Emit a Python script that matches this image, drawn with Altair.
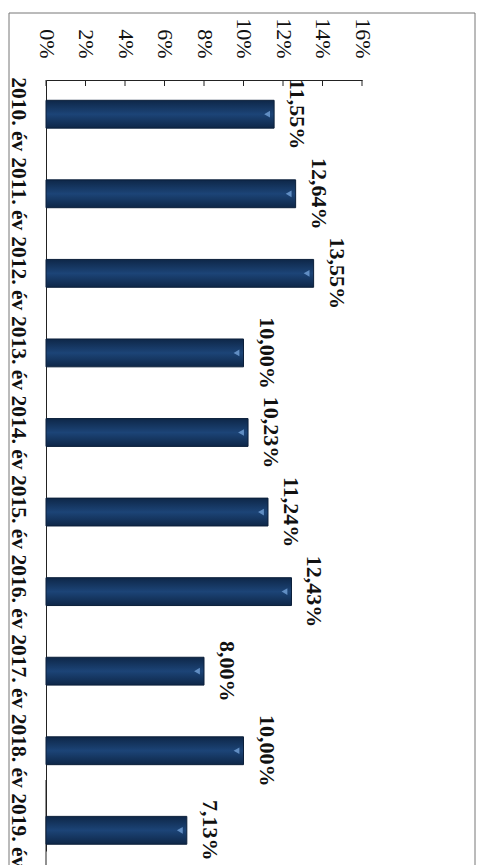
import altair as alt
import pandas as pd

years = ["2010. év", "2011. év", "2012. év", "2013. év", "2014. év",
         "2015. év", "2016. év", "2017. év", "2018. év", "2019. év"]
values = [11.55, 12.64, 13.55, 10.00, 10.23, 11.24, 12.43, 8.00, 10.00, 7.13]
value_labels = ["11,55%", "12,64%", "13,55%", "10,00%", "10,23%",
                "11,24%", "12,43%", "8,00%", "10,00%", "7,13%"]
tick_values = [0, 2, 4, 6, 8, 10, 12, 14, 16]

df = pd.DataFrame({"year": years, "value": values, "label": value_labels})
ticks_df = pd.DataFrame({"t": tick_values})

FONT = "Liberation Serif"

x_scale = alt.Scale(domain=[0, 16], nice=False)
y_scale = alt.Scale(paddingInner=0.65, paddingOuter=0.17, align=0.75)

x_axis = alt.Axis(orient="top", values=tick_values, labelExpr="datum.value + '%'",
                  labelAngle=90, labelAlign="right", labelBaseline="middle",
                  labelPadding=22, ticks=False, tickSize=0, grid=False,
                  domainColor="#222", labelFont=FONT, labelFontSize=22,
                  labelColor="#111", title=None, labelFlush=False,
                  labelOverlap=False, labelBound=False)
y_axis = alt.Axis(orient="left", labelAngle=90, labelAlign="center",
                  labelBaseline="top", labelPadding=18, ticks=False,
                  tickSize=0, domainColor="#222", labelFont=FONT,
                  labelFontSize=21.5, labelFontWeight="bold", labelColor="#111",
                  title=None, labelOverlap=False, labelBound=False)


def xe(field):
    return alt.X(field, scale=x_scale, axis=x_axis)


def ye(field):
    return alt.Y(field, sort=None, scale=y_scale, axis=y_axis)


base = alt.Chart(df)

frame = alt.Chart(alt.Data(values=[{"a": 1}])).mark_rect(
    fill=None, stroke="#777", strokeWidth=1
).encode(x=alt.value(-37), x2=alt.value(429), y=alt.value(-67), y2=alt.value(900))

axis_ext = alt.Chart(alt.Data(values=[{"a": 1}])).mark_rule(
    color="#222", strokeWidth=1
).encode(x=alt.value(0), y=alt.value(700), y2=alt.value(900))

bars = base.mark_bar(
    color=alt.Gradient(
        gradient="linear", x1=0, x2=0, y1=0, y2=1,
        stops=[alt.GradientStop(color="#0e2748", offset=0),
               alt.GradientStop(color="#1c4477", offset=0.5),
               alt.GradientStop(color="#0e2748", offset=1)],
    ),
    stroke="#0b1f3a", strokeWidth=1,
).encode(x=xe("value:Q"), y=ye("year:N"))

arrows = base.mark_point(
    shape="triangle-left", filled=True, size=45, color="#6d9bd1",
    opacity=0.85, xOffset=-7,
).encode(x=xe("value:Q"), y=ye("year:N"))

labels = base.mark_text(
    angle=90, align="center", baseline="alphabetic", dy=-16,
    font=FONT, fontSize=22, fontWeight="bold", color="#111",
).encode(x=xe("value:Q"), y=ye("year:N"), text="label:N")

ticks = alt.Chart(ticks_df).mark_rule(color="#222", strokeWidth=1).encode(
    x=xe("t:Q"), y=alt.value(0), y2=alt.value(6)
)

chart = alt.layer(frame, axis_ext, bars, arrows, labels, ticks).properties(
    width=316, height=771,
    autosize=alt.AutoSizeParams(type="none"),
    padding={"left": 38, "top": 72, "right": 114, "bottom": 14},
    background="white",
).configure_view(strokeWidth=0)

chart.save("out.html", embed_options={"renderer": "svg", "actions": False})
